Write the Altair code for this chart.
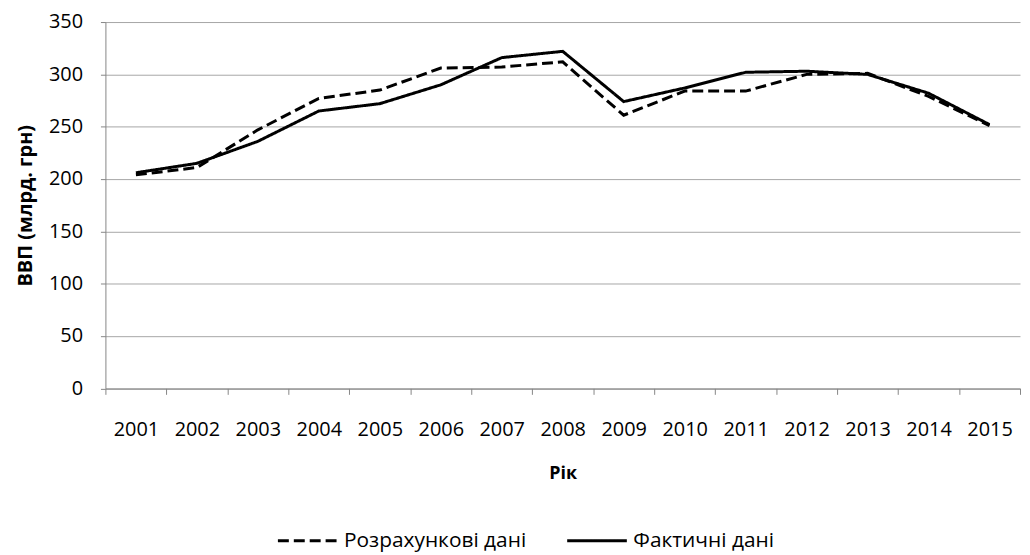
import altair as alt
import pandas as pd

years = [str(y) for y in range(2001, 2016)]
calculated = [204, 211, 247, 277, 285, 306, 307, 312, 261, 284, 284, 300, 301, 279, 251]
actual = [206, 215, 236, 265, 272, 290, 316, 322, 274, 287, 302, 303, 300, 282, 252]
series_names = ["Розрахункові дані", "Фактичні дані"]
y_ticks = [0, 50, 100, 150, 200, 250, 300, 350]

rows = []
for yr, c, a in zip(years, calculated, actual):
    rows.append({"year": yr, "value": c, "series": series_names[0]})
    rows.append({"year": yr, "value": a, "series": series_names[1]})
df = pd.DataFrame(rows)

FONT = "Open Sans"
AXIS_GRAY = "#868686"
GRID_GRAY = "#a6a6a6"

chart = alt.Chart(df).mark_line(color="black", strokeWidth=3).encode(
    x=alt.X(
        "year:O",
        bandPosition=0.5,
        scale=alt.Scale(type="band", paddingInner=0, paddingOuter=0),
        axis=alt.Axis(
            title="Рік",
            tickBand="extent",
            labelAngle=0,
            labelPadding=25,
            tickSize=6,
            titlePadding=26,
            titleFontSize=18,
            grid=False,
        ),
    ),
    y=alt.Y(
        "value:Q",
        scale=alt.Scale(domain=[0, 350], nice=False),
        axis=alt.Axis(
            title="ВВП (млрд. грн)",
            values=y_ticks,
            tickSize=5,
            labelPadding=18,
            titlePadding=13,
            titleFontSize=20,
            grid=True,
        ),
    ),
    strokeDash=alt.StrokeDash(
        "series:N",
        scale=alt.Scale(domain=series_names, range=[[11, 5], [1, 0]]),
        legend=alt.Legend(
            title=None,
            orient="none",
            direction="horizontal",
            legendX=172,
            legendY=490,
            columnPadding=34,
            symbolType="stroke",
            symbolSize=3600,
            symbolStrokeWidth=3,
            symbolStrokeColor="black",
            labelFont=FONT,
            labelFontSize=21,
            labelColor="#000000",
            labelOffset=5,
            labelLimit=400,
            padding=0,
        ),
    ),
).properties(
    width=920,
    height=368.5,
    padding={"left": 98, "top": 12.5, "right": 2, "bottom": 166},
    autosize="none",
).configure_view(
    stroke=None
).configure_axis(
    domainColor=AXIS_GRAY,
    tickColor=AXIS_GRAY,
    gridColor=GRID_GRAY,
    labelFont=FONT,
    labelFontSize=20,
    labelColor="#000000",
    titleFont=FONT,
    titleFontWeight="bold",
    titleColor="#000000",
)

chart.save("out.html", embed_options={"renderer": "svg", "actions": False})
